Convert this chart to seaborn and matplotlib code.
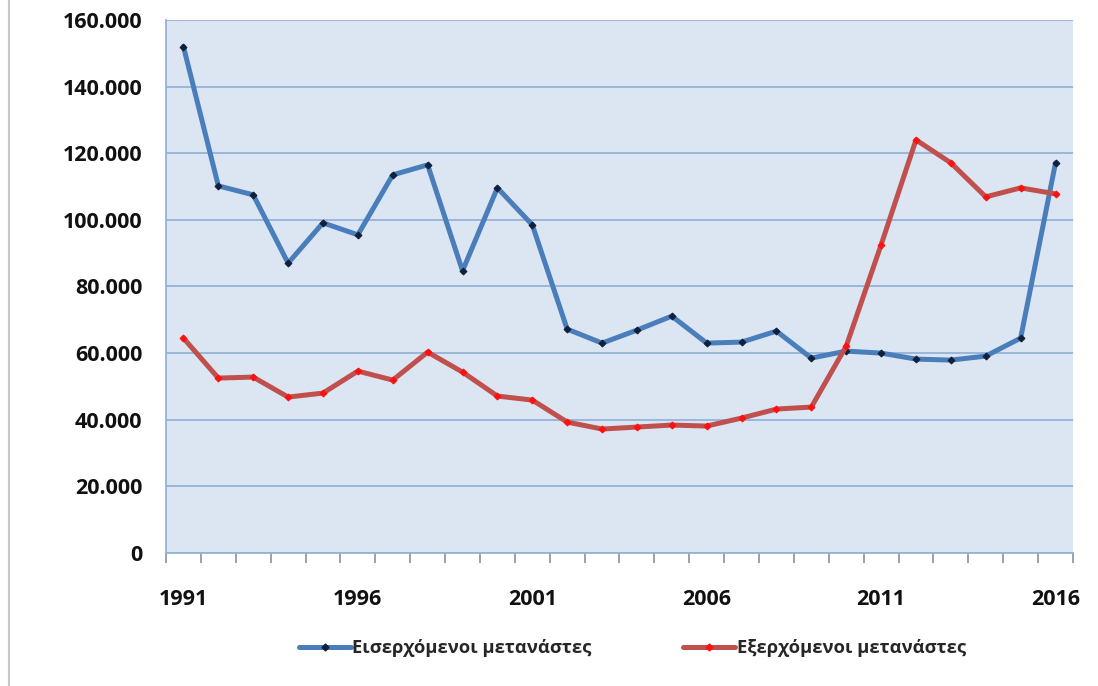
import numpy as np
import pandas as pd
import seaborn as sb
import matplotlib.pyplot as plt
from matplotlib.lines import Line2D
from matplotlib.ticker import FuncFormatter, MultipleLocator

years = list(range(1991, 2017))
incoming = [152000, 110200, 107500, 87000, 99100, 95500, 113500, 116500, 84700, 109600,
            98500, 67200, 63000, 66900, 71100, 63000, 63300, 66600, 58500, 60600,
            60000, 58200, 57900, 59100, 64500, 117100]
outgoing = [64500, 52500, 52800, 46800, 48000, 54600, 51900, 60300, 54300, 47100,
            45900, 39300, 37200, 37800, 38400, 38100, 40500, 43200, 43800, 62100,
            92500, 124000, 117100, 106900, 109600, 107800]
labels = ['Εισερχόμενοι μετανάστες', 'Εξερχόμενοι μετανάστες']

sb.set_style("white")
plt.rcParams['font.family'] = ['Open Sans', 'DejaVu Sans']
plt.rcParams['font.weight'] = 'bold'

fig = plt.figure(figsize=[10.98, 6.86], dpi=100)
ax = fig.add_axes([0.1512, 0.1939, 0.826, 0.777])
ax.set_facecolor('#DCE6F2')

data = pd.DataFrame({'year': years, 'in': incoming, 'out': outgoing})
sb.lineplot(data=data, x='year', y='in', ax=ax, color='#4A7EBB', lw=3.6,
            marker='D', markersize=3.5, markerfacecolor='#10203a',
            markeredgecolor='#10203a', label=labels[0], zorder=3)
sb.lineplot(data=data, x='year', y='out', ax=ax, color='#C0504D', lw=3.6,
            marker='D', markersize=3.5, markerfacecolor='#FF1010',
            markeredgecolor='#FF1010', label=labels[1], zorder=3)

ax.set_xlim(1990.5, 2016.5)
ax.set_ylim(0, 160000)
ax.set_xticks(years[::5])
ax.xaxis.set_minor_locator(MultipleLocator(1, offset=0.5))
ax.yaxis.set_major_locator(MultipleLocator(20000))
ax.yaxis.set_major_formatter(FuncFormatter(lambda v, p: f'{int(v):,}'.replace(',', '.')))
ax.grid(axis='y', color='#95B3D7', lw=1.3)
ax.set_axisbelow(True)
ax.set_xlabel('')
ax.set_ylabel('')

for s in ['top', 'right']:
    ax.spines[s].set_visible(False)
ax.spines['left'].set_color('#95B3D7')
ax.spines['left'].set_linewidth(1.3)
ax.spines['bottom'].set_color('#95B3D7')
ax.spines['bottom'].set_linewidth(1.3)

ax.tick_params(axis='y', length=6, width=1.3, color='#95B3D7', pad=11,
               labelsize=15.5, labelcolor='#111111')
ax.tick_params(axis='x', which='major', length=0, pad=26, labelsize=15.5,
               labelcolor='#111111')
ax.tick_params(axis='x', which='minor', length=7, width=1.3, color='#9a9a9a',
               bottom=True)

ax.get_legend().remove()
handles = [Line2D([], [], color='#4A7EBB', lw=3.6, marker='D', markersize=3.5,
                  markerfacecolor='#10203a', markeredgecolor='#10203a'),
           Line2D([], [], color='#C0504D', lw=3.6, marker='D', markersize=3.5,
                  markerfacecolor='#FF1010', markeredgecolor='#FF1010')]
fig.legend(handles, labels, loc='center', bbox_to_anchor=(0.576, 0.055), ncol=2,
           frameon=False, fontsize=13.2, handlelength=2.8, handletextpad=0.1,
           columnspacing=5.0)

fig.add_artist(Line2D([0.008, 0.008], [0, 1], color='#c8c8c8', lw=1.5,
                      transform=fig.transFigure))

fig.savefig('out.png', dpi=100)
